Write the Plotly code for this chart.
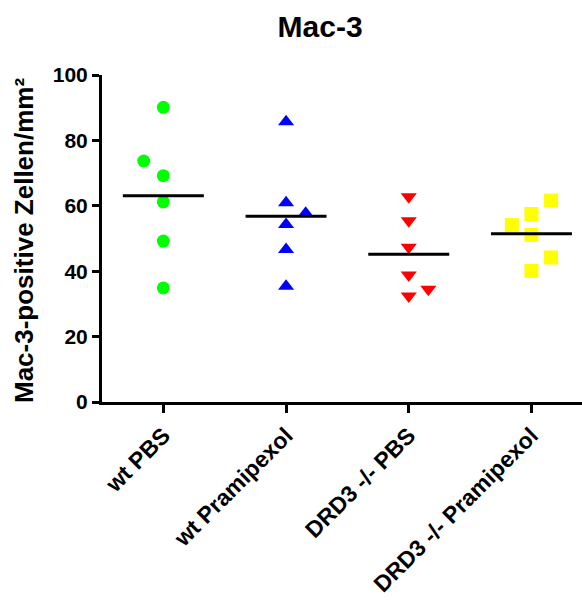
import plotly.graph_objects as go

categories = ["wt PBS", "wt Pramipexol", "DRD3 -/- PBS", "DRD3 -/- Pramipexol"]
wt_pbs = [90.1, 73.7, 69.2, 61.2, 49.2, 34.9]
wt_pramipexol = [85.7, 60.9, 57.7, 54.3, 46.6, 35.4]
drd3_pbs = [62.8, 55.4, 47.3, 38.8, 34.5, 32.4]
drd3_pramipexol = [61.6, 57.5, 54.1, 51.1, 44.2, 40.1]
y_ticks = [0, 20, 40, 60, 80, 100]

# horizontal jitter (layout only)
jitter = [
    [0, -0.16, 0, 0, 0, 0],
    [0, 0, 0.16, 0, 0, 0],
    [0, 0, 0, 0, 0.16, 0],
    [0.16, 0, -0.16, 0, 0.16, 0],
]

series = [wt_pbs, wt_pramipexol, drd3_pbs, drd3_pramipexol]
colors = ["#00FF00", "#0000FF", "#FF0000", "#FFFF00"]
symbols = ["circle", "triangle-up", "triangle-down", "square"]
sizes = [13, 14, 14, 14]

FONT = "Arial, Liberation Sans, sans-serif"

fig = go.Figure()
for i, (vals, col, sym, sz) in enumerate(zip(series, colors, symbols, sizes)):
    xs = [i + j for j in jitter[i]]
    fig.add_trace(go.Scatter(
        x=xs, y=vals, mode="markers",
        marker=dict(color=col, symbol=sym, size=sz, line=dict(width=0)),
        showlegend=False, hoverinfo="y"))
    m = sum(vals) / len(vals)
    fig.add_trace(go.Scatter(
        x=[i - 0.33, i + 0.33], y=[m, m], mode="lines",
        line=dict(color="black", width=3), showlegend=False, hoverinfo="skip"))

fig.update_layout(
    width=582, height=602,
    margin=dict(l=102, r=0, t=75, b=200),
    paper_bgcolor="white", plot_bgcolor="white",
    font=dict(family=FONT, color="black"),
    title=dict(text="<b>Mac-3</b>", font=dict(size=30, family=FONT, color="black"),
               xref="container", x=0.55, xanchor="center",
               yref="container", y=1 - 26 / 602, yanchor="middle"),
    annotations=[dict(
        text="<b>Mac-3-positive Zellen/mm²</b>", textangle=-90,
        xref="paper", yref="paper", x=(24 - 102) / 480, y=(402 - 241) / 327,
        xanchor="center", yanchor="middle", showarrow=False,
        font=dict(size=26, family=FONT, color="black"))],
)
fig.update_xaxes(
    range=[-0.5, 3.412], tickmode="array", tickvals=[0, 1, 2, 3],
    ticktext=["<b>%s</b>" % c for c in categories],
    tickangle=-45, tickfont=dict(size=23, family=FONT, color="black"),
    showline=True, linecolor="black", linewidth=3,
    ticks="outside", ticklen=8, tickwidth=3, tickcolor="black",
    showgrid=False, zeroline=False, automargin=False,
)
fig.update_yaxes(
    range=[0, 100], tickvals=y_ticks,
    ticktext=["<b>%d</b>" % v for v in y_ticks],
    tickfont=dict(size=21, family=FONT, color="black"),
    showline=True, linecolor="black", linewidth=3,
    ticks="outside", ticklen=7, tickwidth=3, tickcolor="black",
    showgrid=False, zeroline=False, automargin=False,
)

fig.write_html("out.html")
